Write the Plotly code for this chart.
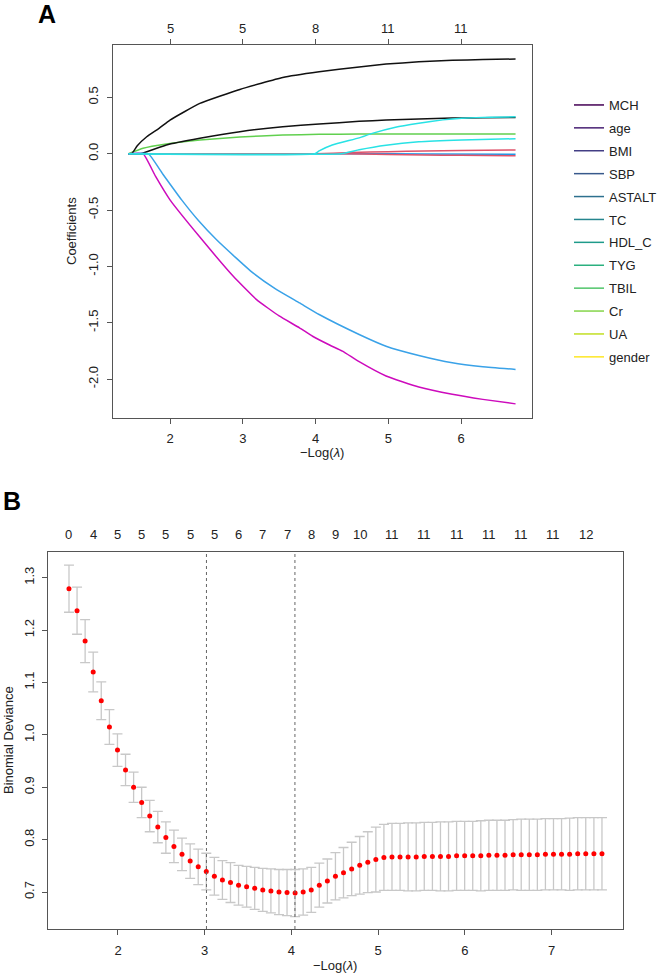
import plotly.graph_objects as go

# ---------------- Panel A data: coefficient paths vs -log(lambda) ----------------
black_top_x = [1.43, 1.475, 1.55, 1.68, 1.85, 2.0, 2.41, 2.96, 3.55, 4.05, 4.60, 4.97, 5.42, 5.88, 6.30, 6.75]
black_top_y = [0.0, 0.0, 0.07, 0.15, 0.225, 0.298, 0.446, 0.570, 0.676, 0.726, 0.770, 0.795, 0.815, 0.829, 0.835, 0.840]

black_low_x = [1.43, 1.60, 1.95, 2.41, 2.96, 3.55, 4.05, 4.60, 4.97, 5.42, 5.88, 6.30, 6.75]
black_low_y = [0.0, 0.0, 0.077, 0.136, 0.195, 0.239, 0.263, 0.287, 0.298, 0.308, 0.316, 0.319, 0.322]

green_x = [1.43, 1.63, 1.95, 2.41, 2.96, 3.55, 4.05, 4.60, 5.42, 6.75]
green_y = [0.0, 0.048, 0.086, 0.121, 0.148, 0.165, 0.172, 0.174, 0.175, 0.175]

pink_up_x = [1.43, 4.0, 4.5, 5.0, 5.5, 6.0, 6.75]
pink_up_y = [0.0, 0.0, 0.010, 0.018, 0.024, 0.029, 0.033]

pink_dn_x = [1.43, 4.3, 5.0, 5.5, 6.0, 6.75]
pink_dn_y = [0.0, 0.0, -0.008, -0.012, -0.015, -0.018]

blue_zero_x = [1.43, 4.6, 5.5, 6.75]
blue_zero_y = [0.0, 0.0, -0.003, -0.005]

magenta_x = [1.43, 1.63, 1.80, 2.0, 2.41, 2.87, 3.19, 3.50, 3.78, 3.96, 4.20, 4.37, 4.60, 4.97, 5.42, 5.88, 6.30, 6.75]
magenta_y = [0.0, 0.0, -0.20, -0.41, -0.74, -1.088, -1.295, -1.44, -1.545, -1.62, -1.70, -1.752, -1.846, -1.973, -2.07, -2.135, -2.18, -2.22]

ltblue_x = [1.43, 1.70, 1.90, 2.16, 2.40, 2.64, 2.90, 3.14, 3.45, 3.78, 4.05, 4.60, 4.97, 5.42, 5.88, 6.30, 6.75]
ltblue_y = [0.0, 0.0, -0.18, -0.41, -0.60, -0.764, -0.92, -1.058, -1.20, -1.324, -1.427, -1.604, -1.708, -1.79, -1.855, -1.89, -1.914]

cyan_a_x = [1.43, 3.99, 4.05, 4.23, 4.60, 4.78, 5.10, 5.42, 5.75, 6.01, 6.40, 6.75]
cyan_a_y = [0.0, 0.0, 0.025, 0.077, 0.14, 0.18, 0.235, 0.27, 0.300, 0.315, 0.324, 0.327]

cyan_b_x = [1.43, 4.35, 4.60, 4.97, 5.42, 6.01, 6.75]
cyan_b_y = [0.0, 0.0, 0.035, 0.075, 0.105, 0.121, 0.133]

# top axis of panel A: number of non-zero coefficients
a_top_at = [2, 3, 4, 5, 6]
a_top_labels = ["5", "5", "8", "11", "11"]

# legend (variables, viridis colours)
variables = ["MCH", "age", "BMI", "SBP", "ASTALT", "TC", "HDL_C", "TYG", "TBIL", "Cr", "UA", "gender"]
var_colors = ["#440154", "#482173", "#433E85", "#38598C", "#2D708E", "#25858E",
              "#1E9B8A", "#2BB07F", "#51C56A", "#85D54A", "#C2DF23", "#FDE725"]

# ---------------- Panel B data: CV binomial deviance ----------------
neg_log_lambda = [1.435, 1.528, 1.621, 1.714, 1.807, 1.901, 1.994, 2.087, 2.180, 2.273,
                  2.366, 2.459, 2.552, 2.645, 2.738, 2.832, 2.925, 3.018, 3.111, 3.204,
                  3.297, 3.390, 3.483, 3.576, 3.669, 3.763, 3.856, 3.949, 4.042, 4.135,
                  4.228, 4.321, 4.414, 4.507, 4.600, 4.694, 4.787, 4.880, 4.973, 5.066,
                  5.159, 5.252, 5.345, 5.438, 5.531, 5.625, 5.718, 5.811, 5.904, 5.997,
                  6.090, 6.183, 6.276, 6.369, 6.462, 6.556, 6.649, 6.742, 6.835, 6.928,
                  7.021, 7.114, 7.207, 7.300, 7.393, 7.487, 7.580]
deviance = [1.279, 1.237, 1.179, 1.120, 1.065, 1.015, 0.971, 0.933, 0.900, 0.871,
            0.845, 0.824, 0.804, 0.787, 0.772, 0.759, 0.748, 0.739, 0.730, 0.723,
            0.718, 0.713, 0.710, 0.707, 0.704, 0.702, 0.700, 0.699, 0.698, 0.700,
            0.704, 0.713, 0.721, 0.730, 0.737, 0.744, 0.751, 0.757, 0.762, 0.766,
            0.767, 0.767, 0.767, 0.767, 0.768, 0.768, 0.768, 0.768, 0.769, 0.769,
            0.769, 0.769, 0.770, 0.770, 0.770, 0.771, 0.771, 0.771, 0.771, 0.772,
            0.772, 0.772, 0.772, 0.773, 0.773, 0.773, 0.773]
deviance_se = [0.045, 0.045, 0.041, 0.038, 0.036, 0.033, 0.031, 0.030, 0.029, 0.029,
               0.030, 0.030, 0.030, 0.031, 0.031, 0.033, 0.034, 0.035, 0.036, 0.037,
               0.038, 0.038, 0.039, 0.040, 0.041, 0.042, 0.043, 0.044, 0.045, 0.044,
               0.043, 0.042, 0.042, 0.045, 0.048, 0.051, 0.055, 0.058, 0.062, 0.063,
               0.064, 0.064, 0.065, 0.065, 0.065, 0.065, 0.066, 0.066, 0.066, 0.066,
               0.066, 0.067, 0.067, 0.067, 0.067, 0.067, 0.068, 0.068, 0.068, 0.068,
               0.068, 0.068, 0.069, 0.069, 0.069, 0.069, 0.069]
b_top_idx = [0, 3, 6, 9, 12, 15, 18, 21, 24, 27, 30, 33, 36, 40, 44, 48, 52, 56, 60, 64]
b_top_labels = ["0", "4", "5", "5", "5", "5", "5", "6", "7", "7", "8", "9", "10",
                "11", "11", "11", "11", "11", "11", "12"]
lambda_1se_x = 3.02
lambda_min_x = 4.04

# ---------------- figure ----------------
W, H = 662, 975
FONT = "Liberation Sans, Arial, Helvetica, sans-serif"
TXT = "#222222"
FRAME = "#555555"
TS = 13

fig = go.Figure()

curves = [
    (blue_zero_x, blue_zero_y, "#2297E6"),
    (pink_dn_x, pink_dn_y, "#DF536B"),
    (pink_up_x, pink_up_y, "#DF536B"),
    (green_x, green_y, "#61D04F"),
    (black_low_x, black_low_y, "#111111"),
    (black_top_x, black_top_y, "#111111"),
    (magenta_x, magenta_y, "#CD0BBC"),
    (ltblue_x, ltblue_y, "#3AA2E8"),
    (cyan_b_x, cyan_b_y, "#28E2E5"),
    (cyan_a_x, cyan_a_y, "#28E2E5"),
]
for cx, cy, col in curves:
    fig.add_trace(go.Scatter(x=cx, y=cy, mode="lines", xaxis="x", yaxis="y",
                             line=dict(color=col, width=1.5, shape="spline", smoothing=0.4),
                             showlegend=False, hoverinfo="skip"))

for name, col in zip(variables, var_colors):
    fig.add_trace(go.Scatter(x=[None], y=[None], mode="lines", name=name, legendgroup=name,
                             xaxis="x", yaxis="y", line=dict(color=col, width=1.5)))

fig.add_trace(go.Scatter(
    x=neg_log_lambda, y=deviance, mode="markers", xaxis="x2", yaxis="y2",
    marker=dict(color="#FF0000", size=5),
    error_y=dict(type="data", array=deviance_se, color="#C8C8C8", thickness=1.3, width=5),
    showlegend=False, hoverinfo="skip"))

# layout positions (pixels -> paper fractions)
def fx(p):
    return p / W

def fy(p):
    return 1 - p / H

axis_common = dict(showgrid=False, zeroline=False, showline=True, linecolor=FRAME, linewidth=1,
                   ticks="outside", ticklen=5, tickcolor=FRAME,
                   tickfont=dict(family=FONT, size=TS, color=TXT))

fig.update_layout(
    width=W, height=H, margin=dict(l=0, r=0, t=0, b=0),
    paper_bgcolor="white", plot_bgcolor="white",
    font=dict(family=FONT, color=TXT, size=TS),
    xaxis=dict(domain=[fx(113), fx(532)], range=[1.2165, 6.976], tickvals=[2, 3, 4, 5, 6],
               anchor="y", mirror="ticks", ticklabelstandoff=3, **axis_common),
    yaxis=dict(domain=[fy(418.3), fy(44.7)], range=[-2.348, 0.967],
               tickvals=[-2.0, -1.5, -1.0, -0.5, 0.0, 0.5],
               ticktext=["-2.0", "-1.5", "-1.0", "-0.5", "0.0", "0.5"],
               tickangle=-90, anchor="x", mirror=True, ticklabelstandoff=4, **axis_common),
    xaxis2=dict(domain=[fx(48), fx(622.7)], range=[1.193, 7.819], tickvals=[2, 3, 4, 5, 6, 7],
                anchor="y2", mirror=True, ticklabelstandoff=4, **axis_common),
    yaxis2=dict(domain=[fy(929), fy(551.7)], range=[0.6294, 1.3496],
                tickvals=[0.7, 0.8, 0.9, 1.0, 1.1, 1.2, 1.3],
                ticktext=["0.7", "0.8", "0.9", "1.0", "1.1", "1.2", "1.3"],
                tickangle=-90, anchor="x2", mirror=True, ticklabelstandoff=3, **axis_common),
    legend=dict(x=fx(569), y=fy(90), xanchor="left", yanchor="top",
                font=dict(family=FONT, size=13, color=TXT), tracegroupgap=3,
                bgcolor="rgba(0,0,0,0)", itemwidth=30),
    showlegend=True,
)

# vertical dotted lines at lambda.1se and lambda.min
for vx in (lambda_1se_x, lambda_min_x):
    fig.add_shape(type="line", xref="x2", yref="y2 domain", x0=vx, x1=vx, y0=0, y1=1,
                  line=dict(color="#666666", width=1, dash="dot"))

def note(x, y, text, xref="paper", size=TS, angle=0, color=TXT):
    return dict(x=x, y=y, xref=xref, yref="paper", text=text, showarrow=False,
                xanchor="center", yanchor="middle", textangle=angle,
                font=dict(family=FONT, size=size, color=color))

ann = []
for at, lab in zip(a_top_at, a_top_labels):
    ann.append(note(at, fy(28.5), lab, xref="x"))
for i, lab in zip(b_top_idx, b_top_labels):
    ann.append(note(neg_log_lambda[i], fy(534), lab, xref="x2"))
# axis titles
ann.append(note(fx(322), fy(452), "\u2212Log(<i>\u03bb</i>)"))
ann.append(note(fx(335), fy(965), "\u2212Log(<i>\u03bb</i>)"))
ann.append(note(fx(72), fy(231), "Coefficients", angle=-90))
ann.append(note(fx(8), fy(740), "Binomial Deviance", angle=-90))
# panel letters
ann.append(note(fx(47), fy(14), "<b>A</b>", size=25, color="#000000"))
ann.append(note(fx(12), fy(501), "<b>B</b>", size=25, color="#000000"))
fig.update_layout(annotations=ann)

fig.write_html("out.html")
